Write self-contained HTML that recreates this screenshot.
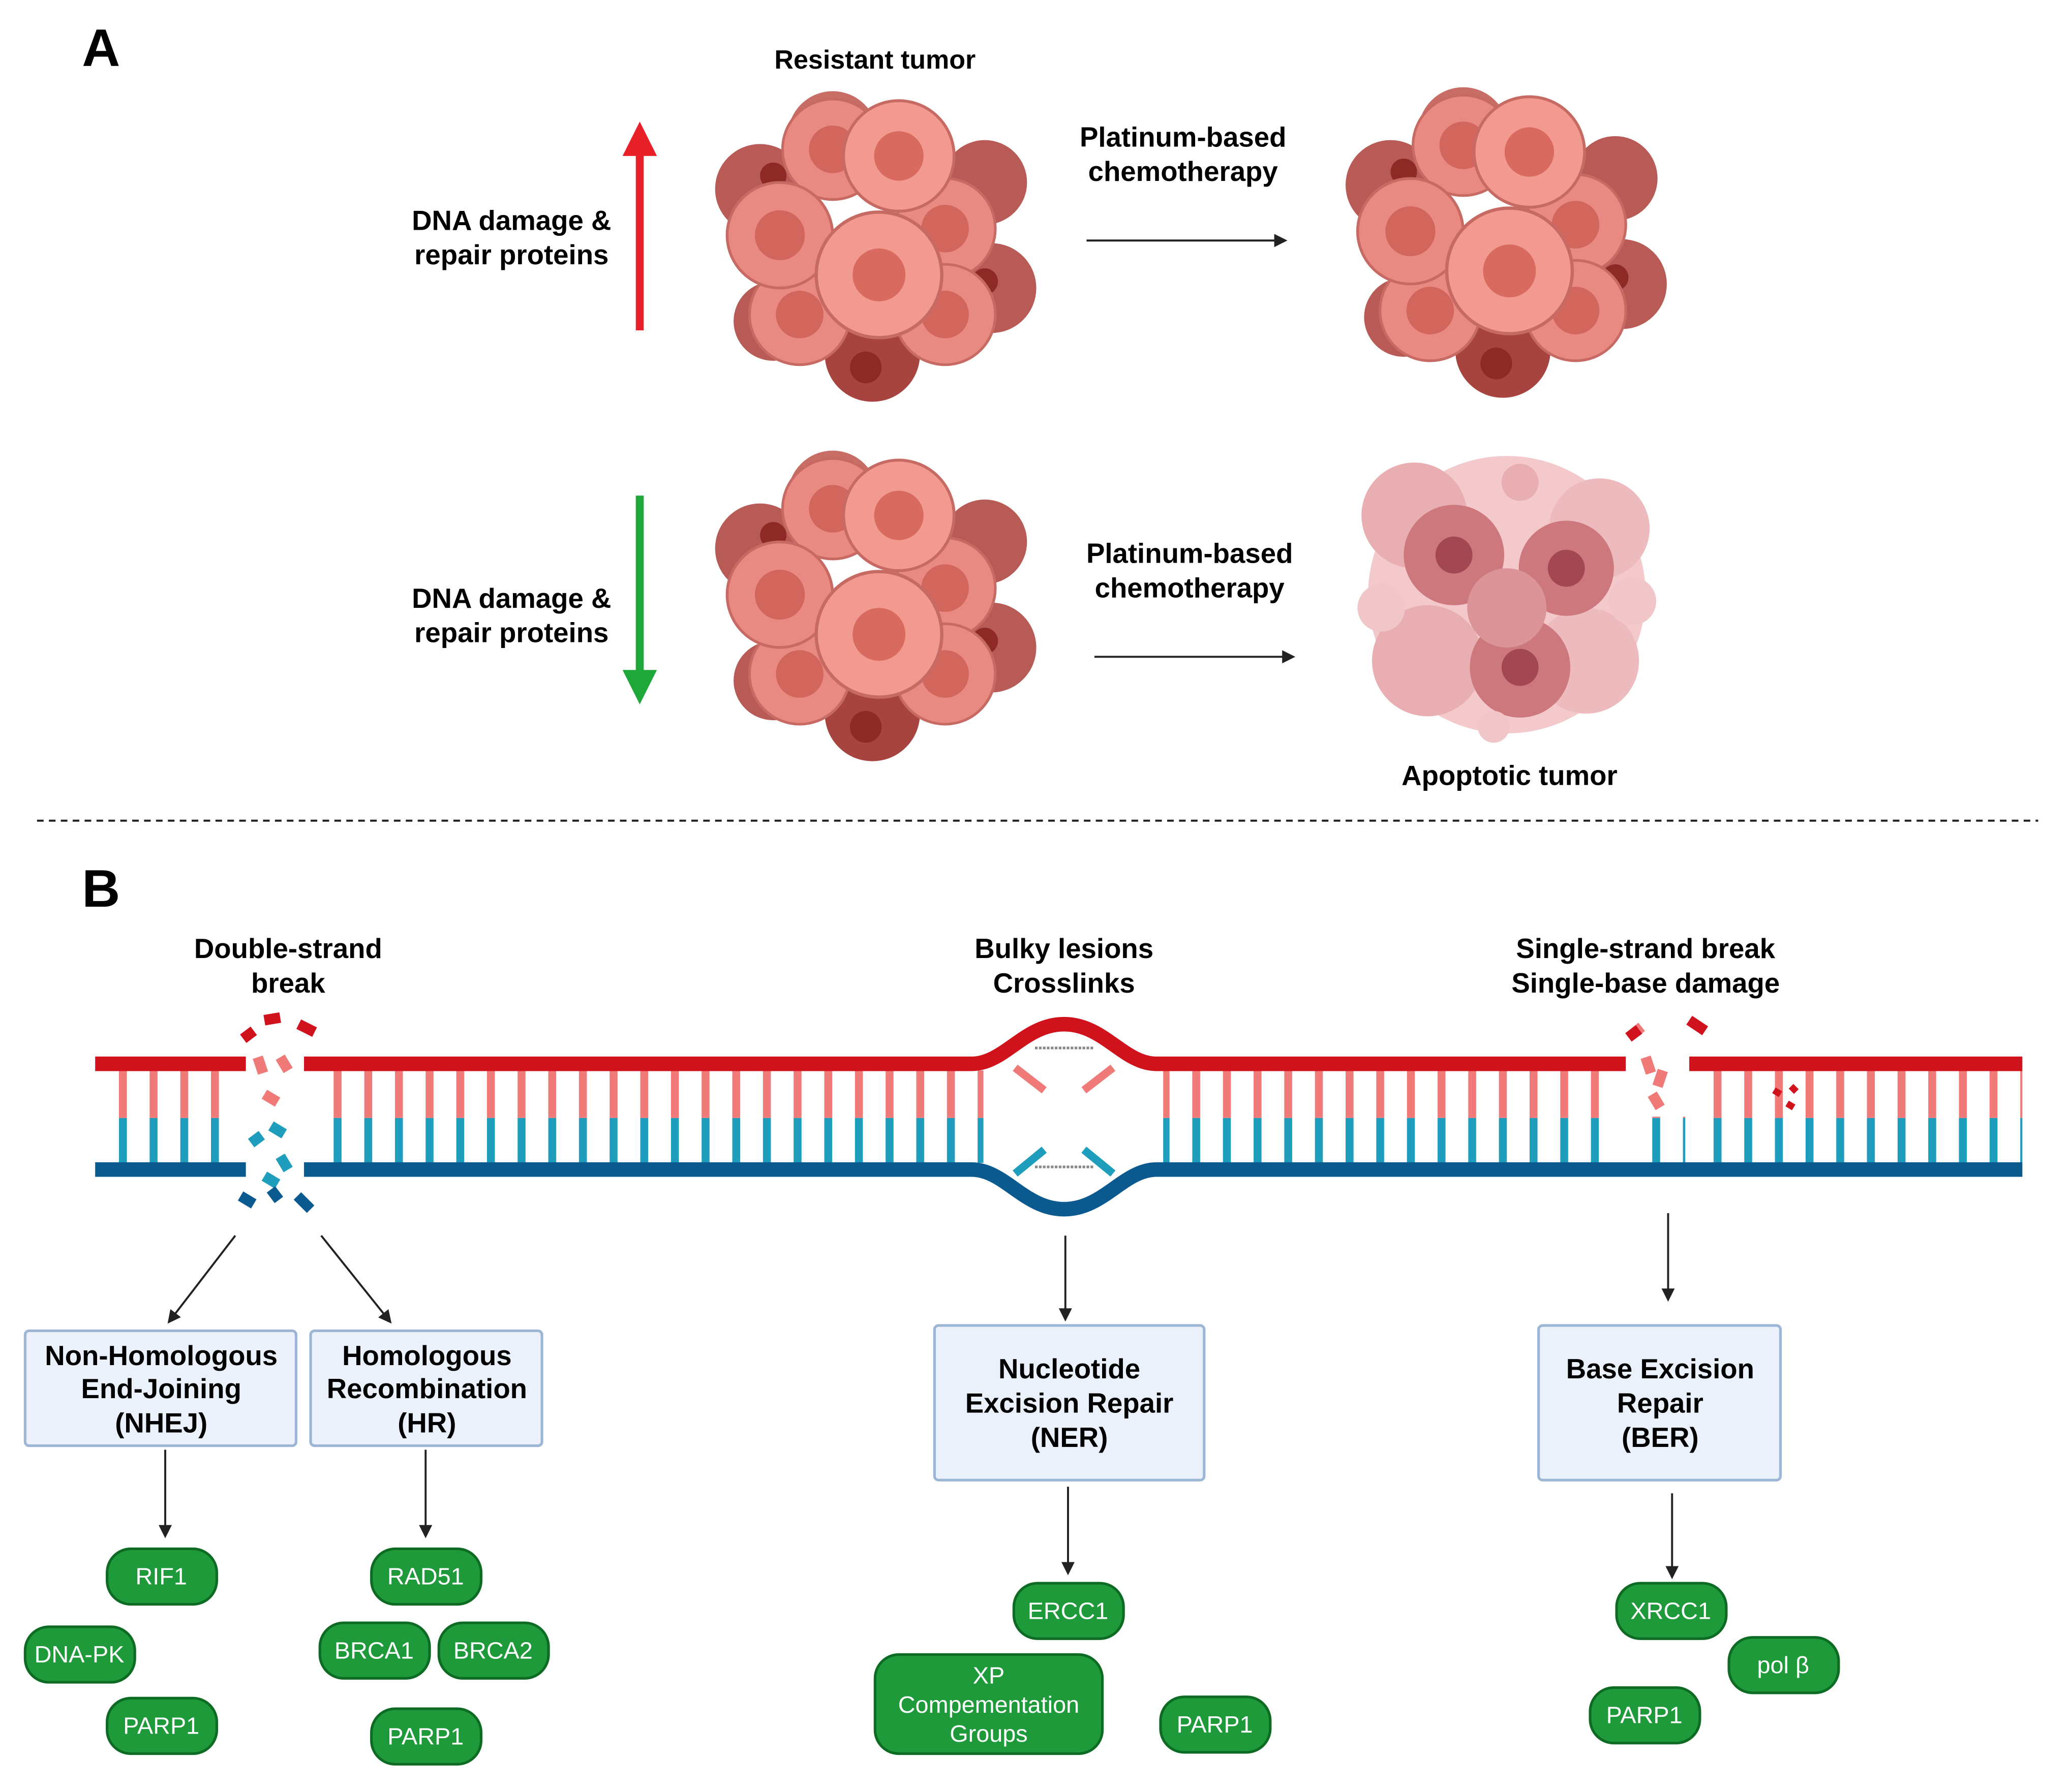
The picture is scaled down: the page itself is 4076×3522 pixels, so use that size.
<!DOCTYPE html>
<html><head><meta charset="utf-8"><style>html,body{margin:0;padding:0;background:#fff}svg{display:block}text{font-family:"Liberation Sans",sans-serif}</style></head><body>
<svg width="4076" height="3522" viewBox="0 0 1567 1354.5" preserveAspectRatio="xMinYMin meet" xmlns="http://www.w3.org/2000/svg">
<defs>
<marker id="ah" markerWidth="10" markerHeight="10" refX="8" refY="5" orient="auto" markerUnits="userSpaceOnUse"><path d="M0,0 L10,5 L0,10 z" fill="#222"/></marker>
<g id="cell"><circle r="38" fill="#e98a82" stroke="#c86a64" stroke-width="2"/><circle r="18" fill="#d2655c"/></g>
<g id="tumor">
<circle cx="-85" cy="-40" r="34" fill="#b85a55"/><circle cx="85" cy="-45" r="32" fill="#b85a55"/><circle cx="90" cy="35" r="34" fill="#b85a55"/><circle cx="0" cy="85" r="36" fill="#a8443f"/><circle cx="-75" cy="60" r="30" fill="#b85a55"/><circle cx="-30" cy="-80" r="34" fill="#c86d66"/>
<circle cx="-75" cy="-50" r="10" fill="#8e2a25"/><circle cx="-5" cy="95" r="12" fill="#8e2a25"/><circle cx="85" cy="30" r="10" fill="#8e2a25"/>
<use href="#cell" x="-30" y="-70"/><use href="#cell" x="55" y="-10"/><use href="#cell" x="-55" y="55"/><use href="#cell" x="55" y="55"/>
<g transform="translate(-70,-5) scale(1.05)"><use href="#cell"/></g>
<g transform="translate(20,-65) scale(1.1)"><circle r="38" fill="#f29a90" stroke="#c86a64" stroke-width="2"/><circle r="17" fill="#d86a5f"/></g>
<g transform="translate(5,25) scale(1.25)"><circle r="38" fill="#f29a90" stroke="#c86a64" stroke-width="2"/><circle r="16" fill="#d86a5f"/></g>
</g>
<pattern id="rungs" x="90" y="810" width="23.2" height="70" patternUnits="userSpaceOnUse"><rect x="0" y="0" width="6" height="36" fill="#f07a78"/><rect x="0" y="36" width="6" height="34" fill="#1f9dbd"/></pattern>
</defs>
<rect width="1567" height="1355" fill="#fff"/>
<text x="62" y="50" font-size="40" font-weight="bold">A</text>
<text x="662" y="52" font-size="20" font-weight="bold" text-anchor="middle">Resistant tumor</text>
<g font-size="21" font-weight="bold" text-anchor="middle">
<text x="387" y="174">DNA damage &amp;</text><text x="387" y="200">repair proteins</text>
<text x="387" y="460">DNA damage &amp;</text><text x="387" y="486">repair proteins</text>
<text x="895" y="111">Platinum-based</text><text x="895" y="137">chemotherapy</text>
<text x="900" y="426">Platinum-based</text><text x="900" y="452">chemotherapy</text>
<text x="1142" y="594">Apoptotic tumor</text>
<text x="218" y="725">Double-strand</text><text x="218" y="751">break</text>
<text x="805" y="725">Bulky lesions</text><text x="805" y="751">Crosslinks</text>
<text x="1245" y="725">Single-strand break</text><text x="1245" y="751">Single-base damage</text>
</g>
<line x1="484" y1="250" x2="484" y2="115" stroke="#e8202a" stroke-width="6"/><path d="M471,118 L484,92 L497,118z" fill="#e8202a"/>
<line x1="484" y1="375" x2="484" y2="510" stroke="#1fa83a" stroke-width="6"/><path d="M471,507 L484,533 L497,507z" fill="#1fa83a"/>
<line x1="822" y1="182" x2="972" y2="182" stroke="#222" stroke-width="1.5" marker-end="url(#ah)"/>
<line x1="828" y1="497" x2="978" y2="497" stroke="#222" stroke-width="1.5" marker-end="url(#ah)"/>
<use href="#tumor" x="660" y="183"/><use href="#tumor" x="1137" y="180"/><use href="#tumor" x="660" y="455"/>
<g opacity="0.9">
<circle cx="1140" cy="450" r="105" fill="#f2c4c6"/>
<circle cx="1070" cy="390" r="40" fill="#e6a6aa"/><circle cx="1210" cy="400" r="38" fill="#ecb4b8"/><circle cx="1080" cy="500" r="42" fill="#e6a6aa"/><circle cx="1200" cy="500" r="40" fill="#ecb4b8"/>
<circle cx="1100" cy="420" r="38" fill="#c86a70"/><circle cx="1185" cy="430" r="36" fill="#c86a70"/><circle cx="1150" cy="505" r="38" fill="#c86a70"/><circle cx="1140" cy="460" r="30" fill="#d88a8e"/>
<circle cx="1100" cy="420" r="14" fill="#9a3540"/><circle cx="1185" cy="430" r="14" fill="#9a3540"/><circle cx="1150" cy="505" r="14" fill="#9a3540"/>
<circle cx="1045" cy="460" r="18" fill="#f0c0c4"/><circle cx="1235" cy="455" r="18" fill="#f0c0c4"/><circle cx="1150" cy="365" r="14" fill="#e6a6aa"/><circle cx="1130" cy="550" r="12" fill="#f0c0c4"/>
</g>
<line x1="28" y1="621" x2="1542" y2="621" stroke="#222" stroke-width="1.5" stroke-dasharray="5,4"/>
<text x="62" y="686" font-size="40" font-weight="bold">B</text>
<rect x="80" y="810" width="100" height="70" fill="url(#rungs)"/>
<rect x="238" y="810" width="506" height="70" fill="url(#rungs)"/>
<rect x="880" y="810" width="345" height="70" fill="url(#rungs)"/>
<rect x="1285" y="810" width="245" height="70" fill="url(#rungs)"/>
<rect x="1235" y="845" width="40" height="35" fill="url(#rungs)"/>
<rect x="1345" y="845" width="12" height="35" fill="url(#rungs)"/>
<path d="M72,805 H186 M230,805 H735 C760,805 775,775 805,775 C835,775 850,805 875,805 H1230 M1278,805 H1530" stroke="#d0121c" stroke-width="11" fill="none"/>
<path d="M72,885 H186 M230,885 H735 C760,885 775,915 805,915 C835,915 850,885 875,885 H1530" stroke="#0a5a90" stroke-width="11" fill="none"/>
<line x1="783" y1="793" x2="828" y2="793" stroke="#888" stroke-width="2" stroke-dasharray="2,1"/>
<line x1="783" y1="883" x2="828" y2="883" stroke="#888" stroke-width="2" stroke-dasharray="2,1"/>
<path d="M768,808 L790,825 M842,808 L820,825" stroke="#f07a78" stroke-width="6"/>
<path d="M768,888 L790,870 M842,888 L820,870" stroke="#1f9dbd" stroke-width="6"/>
<g stroke-width="8" fill="none">
<path d="M184,786 l8,-6 M200,772 l12,-2 M226,775 l12,6" stroke="#d0121c"/>
<path d="M195,800 l4,12 M212,800 l6,10 M200,828 l10,6" stroke="#f07a78"/>
<path d="M205,852 l10,6 M190,865 l8,-6 M212,875 l6,10 M200,890 l10,6" stroke="#1f9dbd"/>
<path d="M182,905 l10,6 M225,905 l10,10 M205,900 l6,8" stroke="#0a5a90"/>
<path d="M1232,785 l10,-8 M1278,772 l12,8 M1245,800 l4,12 M1258,810 l-4,12 M1250,828 l6,10" stroke="#f07a78"/>
<path d="M1232,785 l8,-6 M1278,772 l12,8" stroke="#d0121c"/>
<path d="M1342,825 l5,3 M1355,822 l4,4 M1352,835 l5,3" stroke="#d0121c" stroke-width="5"/>
</g>
<g stroke="#222" stroke-width="1.5" marker-end="url(#ah)">
<line x1="178" y1="935" x2="128" y2="1000"/><line x1="243" y1="935" x2="295" y2="1000"/>
<line x1="806" y1="935" x2="806" y2="998"/><line x1="1262" y1="918" x2="1262" y2="983"/>
<line x1="125" y1="1097" x2="125" y2="1162"/><line x1="322" y1="1097" x2="322" y2="1162"/>
<line x1="808" y1="1125" x2="808" y2="1190"/><line x1="1265" y1="1130" x2="1265" y2="1193"/>
</g>
<g fill="#eaf1fb" stroke="#9db6d6" stroke-width="2">
<rect x="19" y="1007" width="205" height="87" rx="3"/><rect x="235" y="1007" width="175" height="87" rx="3"/>
<rect x="707" y="1003" width="204" height="117" rx="3"/><rect x="1164" y="1003" width="183" height="117" rx="3"/>
</g>
<g font-size="21" font-weight="bold" text-anchor="middle">
<text x="122" y="1033">Non-Homologous</text><text x="122" y="1058">End-Joining</text><text x="122" y="1084">(NHEJ)</text>
<text x="323" y="1033">Homologous</text><text x="323" y="1058">Recombination</text><text x="323" y="1084">(HR)</text>
<text x="809" y="1043">Nucleotide</text><text x="809" y="1069">Excision Repair</text><text x="809" y="1095">(NER)</text>
<text x="1256" y="1043">Base Excision</text><text x="1256" y="1069">Repair</text><text x="1256" y="1095">(BER)</text>
</g>
<g fill="#1e9a3a" stroke="#0d6b24" stroke-width="2">
<rect x="81" y="1172" width="83" height="42" rx="18"/><rect x="19" y="1231" width="83" height="42" rx="18"/><rect x="81" y="1285" width="83" height="42" rx="18"/>
<rect x="281" y="1172" width="83" height="42" rx="18"/><rect x="242" y="1228" width="83" height="42" rx="18"/><rect x="332" y="1228" width="83" height="42" rx="18"/><rect x="281" y="1293" width="83" height="42" rx="18"/>
<rect x="767" y="1198" width="83" height="42" rx="18"/><rect x="662" y="1252" width="172" height="75" rx="18"/><rect x="878" y="1284" width="83" height="42" rx="18"/>
<rect x="1223" y="1198" width="83" height="42" rx="18"/><rect x="1308" y="1239" width="83" height="42" rx="18"/><rect x="1203" y="1277" width="83" height="42" rx="18"/>
</g>
<g font-size="18" fill="#fff" text-anchor="middle">
<text x="122" y="1199">RIF1</text><text x="60" y="1258">DNA-PK</text><text x="122" y="1312">PARP1</text>
<text x="322" y="1199">RAD51</text><text x="283" y="1255">BRCA1</text><text x="373" y="1255">BRCA2</text><text x="322" y="1320">PARP1</text>
<text x="808" y="1225">ERCC1</text><text x="748" y="1274">XP</text><text x="748" y="1296">Compementation</text><text x="748" y="1318">Groups</text><text x="919" y="1311">PARP1</text>
<text x="1264" y="1225">XRCC1</text><text x="1349" y="1266">pol β</text><text x="1244" y="1304">PARP1</text>
</g>
</svg>
</body></html>
